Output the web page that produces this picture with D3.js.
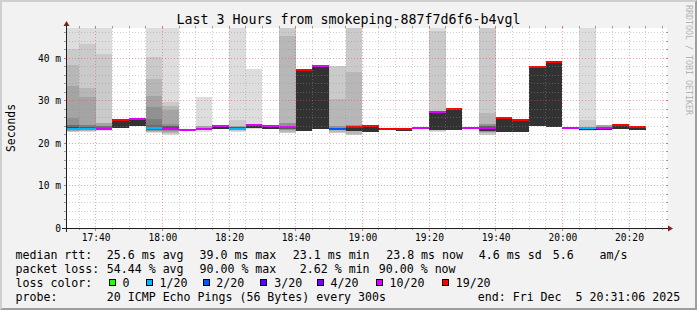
<!DOCTYPE html>
<html><head><meta charset="utf-8">
<script src="https://cdn.jsdelivr.net/npm/d3@7"></script>
<style>
body{margin:0;background:#f2f2f2;}
svg{display:block;}
text{font-family:"DejaVu Sans Mono",monospace;white-space:pre;}
</style>
</head><body>
<svg id="c" width="697" height="310"></svg>
<script>
// ---------------- data ----------------
const day = "2025-12-05";
const rangeStart = "17:31:06";
const rangeEnd = "20:31:06";
const title = "Last 3 Hours from smokeping-887f7d6f6-b4vgl";
const yLabel = "Seconds";
const yMax = 47.06;

// start time of each 5-minute interval
const times = ["17:30","17:35","17:40","17:45","17:50","17:55","18:00","18:05","18:10","18:15",
  "18:20","18:25","18:30","18:35","18:40","18:45","18:50","18:55","19:00","19:05",
  "19:10","19:15","19:20","19:25","19:30","19:35","19:40","19:45","19:50","19:55",
  "20:00","20:05","20:10","20:15","20:20"];

// median rtt (ms)
const median = [23.2,23.4,23.4,25.3,25.7,23.5,23.4,23.1,23.4,23.9,
  23.3,24.3,23.9,23.7,37.2,38.2,23.3,23.7,24.0,23.3,
  23.2,23.6,27.4,28.0,23.6,23.6,25.8,25.5,37.9,39.0,
  23.6,23.5,23.6,24.3,23.8];

// loss category (index into lossLabels)
const loss = [1,1,5,6,5,1,5,5,5,5,1,5,5,5,6,5,2,6,6,6,6,5,5,6,5,5,6,6,6,6,5,1,5,6,6];

// smoke bands per interval: [layer (1 = outermost pair of pings .. 10 = innermost), low ms, high ms]
const smoke = [
  [[1,22.5,60],[2,22.7,42.1],[3,22.8,38.4],[4,22.9,33.4],[5,23.0,26.0],[7,23.1,24.2],[9,23.1,23.7]],
  [[1,22.6,60],[2,22.8,43.2],[3,22.9,32.9],[4,23.0,30.9],[6,23.1,24.2],[8,23.2,23.8]],
  [[1,22.9,60],[2,23.0,40.9],[4,23.1,24.6],[7,23.2,24.0]],
  [[10,23.6,25.3]],
  [[10,24.1,25.7]],
  [[1,22.3,60],[2,22.5,40.2],[3,22.7,35.1],[4,22.8,31.1],[5,22.9,28.5],[6,23.0,25.7],[7,23.1,24.2],[9,23.2,23.8]],
  [[1,21.9,60],[2,22.2,29.7],[3,22.4,28.7],[4,22.6,27.7],[5,22.9,24.5],[8,23.1,23.9]],
  [[10,22.9,23.1]],
  [[1,22.6,30.8],[4,23.0,23.9],[10,23.1,23.4]],
  [[10,23.3,23.9]],
  [[1,22.7,60],[2,22.9,25.4],[4,23.0,24.1],[8,23.1,23.7]],
  [[1,23.2,37.3],[10,23.5,24.3]],
  [[10,23.2,23.9]],
  [[2,22.4,60],[3,22.7,45.2],[5,23.0,24.6],[8,23.2,24.0]],
  [[10,22.9,37.2]],
  [[10,23.3,38.2]],
  [[2,22.4,38.1],[3,22.7,30.4],[5,23.0,24.0],[8,23.1,23.6]],
  [[2,21.9,60],[3,22.2,36.6],[5,22.8,24.2],[10,22.9,23.7]],
  [[10,22.7,24.0]],
  [[10,23.1,23.3]],
  [[10,22.9,23.2]],
  [],
  [[1,22.7,60],[2,22.8,46.4],[10,23.1,27.4]],
  [[10,23.1,28.0]],
  [],
  [[2,21.8,60],[3,22.3,27.0],[5,22.7,24.5],[8,22.9,24.0],[10,22.9,23.6]],
  [[10,22.7,25.8]],
  [[10,22.7,25.5]],
  [[10,24.1,37.9]],
  [[10,23.8,39.0]],
  [],
  [[1,22.9,60],[2,23.0,25.5],[10,23.1,23.5]],
  [[4,23.0,24.3],[10,23.1,23.6]],
  [[10,23.4,24.3]],
  [[10,23.1,23.8]]
];

const lossLabels = ["0","1/20","2/20","3/20","4/20","10/20","19/20"];
const lossColors = ["#26ff00","#00b8ff","#0059ff","#5e00ff","#7e00ff","#dd00ff","#ff0000"];

const xTickLabels = ["17:40","18:00","18:20","18:40","19:00","19:20","19:40","20:00","20:20"];
const yTickValues = [0,10,20,30,40];
const yTickLabels = ["0","10 m","20 m","30 m","40 m"];

const rttStats = ["median rtt:","25.6 ms avg","39.0 ms max","23.1 ms min","23.8 ms now","4.6 ms sd","5.6","am/s"];
const lossStats = ["packet loss:","54.44 % avg","90.00 % max","2.62 % min","90.00 % now"];
const probeText = ["probe:","20 ICMP Echo Pings (56 Bytes) every 300s","end: Fri Dec  5 20:31:06 2025"];
const watermark = "RRDTOOL / TOBI OETIKER";

// ---------------- drawing ----------------
const W = 697, H = 310;
const X0 = 66, X1 = 666, Y0 = 228, Y1 = 28;
const svg = d3.select("#c");
const parse = d3.timeParse("%Y-%m-%d %H:%M:%S");
const T = s => parse(day + " " + (s.length === 5 ? s + ":00" : s));

const x = d3.scaleTime().domain([T(rangeStart), T(rangeEnd)]).range([X0, X1]);
const y = d3.scaleLinear().domain([0, yMax]).range([Y0, Y1]);
const layerColor = l => { const c = Math.floor(190 / 10 * (10 - l)) + 50; return d3.rgb(c, c, c).formatHex(); };

// background + 3d border
svg.append("rect").attr("width", W).attr("height", H).attr("fill", "#f2f2f2");
svg.append("polygon").attr("points", `0,${H} 2,${H-2} 2,2 ${W-2},2 ${W},0 0,0`).attr("fill", "#cfcfcf");
svg.append("polygon").attr("points", `2,${H-2} ${W-2},${H-2} ${W-2},2 ${W},0 ${W},${H} 0,${H}`).attr("fill", "#9e9e9e");

// canvas
svg.append("rect").attr("x", X0).attr("y", Y1).attr("width", X1 - X0 + 1).attr("height", Y0 - Y1).attr("fill", "#ffffff");

svg.append("clipPath").attr("id", "plot").append("rect")
  .attr("x", X0).attr("y", Y1).attr("width", X1 - X0 + 1).attr("height", Y0 - Y1);

const g = svg.append("g").attr("clip-path", "url(#plot)").attr("shape-rendering", "crispEdges");

// smoke
times.forEach((tm, k) => {
  const ts = T(tm), te = d3.timeMinute.offset(ts, 5);
  const xa = x(ts), xb = x(te);
  smoke[k].forEach(([layer, lo, hi]) => {
    g.append("rect")
      .attr("x", xa).attr("width", xb - xa)
      .attr("y", y(hi)).attr("height", y(lo) - y(hi))
      .attr("fill", layerColor(layer));
  });
});
// median lines
times.forEach((tm, k) => {
  const ts = T(tm), te = d3.timeMinute.offset(ts, 5);
  const xa = x(ts), xb = x(te);
  g.append("rect")
    .attr("x", xa).attr("width", xb - xa)
    .attr("y", y(median[k]) - 1).attr("height", 2)
    .attr("fill", lossColors[loss[k]]);
});

// grid (on top of data, translucent)
const grid = svg.append("g");
const minorCol = "#8f8f8f", minorOp = 0.42, majorCol = "#de4f4f", majorOp = 0.5;
const yMinor = d3.range(2, yMax, 2).filter(v => v % 10 !== 0);
yMinor.forEach(v => {
  const yy = Math.floor(y(v)) + 0.5;
  grid.append("line").attr("x1", X0).attr("x2", X1).attr("y1", yy).attr("y2", yy)
    .attr("stroke", minorCol).attr("stroke-opacity", minorOp).attr("stroke-dasharray", "1,2");
  grid.append("line").attr("x1", X0 - 2).attr("x2", X0).attr("y1", yy).attr("y2", yy).attr("stroke", "#9a9a9a");
  grid.append("line").attr("x1", X1).attr("x2", X1 + 2).attr("y1", yy).attr("y2", yy).attr("stroke", "#9a9a9a");
});
yTickValues.filter(v => v > 0).forEach(v => {
  const yy = Math.floor(y(v)) + 0.5;
  grid.append("line").attr("x1", X0).attr("x2", X1).attr("y1", yy).attr("y2", yy)
    .attr("stroke", majorCol).attr("stroke-opacity", majorOp).attr("stroke-dasharray", "1,2");
  grid.append("line").attr("x1", X0 - 2).attr("x2", X0).attr("y1", yy).attr("y2", yy).attr("stroke", "#e07070");
  grid.append("line").attr("x1", X1).attr("x2", X1 + 2).attr("y1", yy).attr("y2", yy).attr("stroke", "#e07070");
});
const vTimes = d3.timeMinute.every(5).range(T(rangeStart), T(rangeEnd));
const majorSet = new Set(xTickLabels);
const fmt = d3.timeFormat("%H:%M");
vTimes.forEach(t => {
  const xx = Math.floor(x(t)) + 0.5;
  const major = majorSet.has(fmt(t));
  grid.append("line").attr("x1", xx).attr("x2", xx).attr("y1", Y1).attr("y2", Y0)
    .attr("stroke", major ? majorCol : minorCol).attr("stroke-opacity", major ? majorOp : minorOp)
    .attr("stroke-dasharray", "1,2");
  const tc = major ? "#e07070" : "#9a9a9a";
  grid.append("line").attr("x1", xx).attr("x2", xx).attr("y1", Y0).attr("y2", Y0 + (major ? 3 : 2)).attr("stroke", tc);
  grid.append("line").attr("x1", xx).attr("x2", xx).attr("y1", Y1 - 2).attr("y2", Y1).attr("stroke", tc);
});

// axes
svg.append("line").attr("x1", X0 - 4).attr("x2", X1 + 4).attr("y1", Y0 + 0.5).attr("y2", Y0 + 0.5).attr("stroke", "#1f1f1f");
svg.append("line").attr("x1", X0 + 0.5).attr("x2", X0 + 0.5).attr("y1", Y0 + 4).attr("y2", Y1 - 4).attr("stroke", "#1f1f1f");
svg.append("polygon").attr("points", `${X1+2},${Y0-2.5} ${X1+2},${Y0+3.5} ${X1+7},${Y0+0.5}`).attr("fill", "#801f1f");
svg.append("polygon").attr("points", `${X0-2.5},${Y1-2} ${X0+3.5},${Y1-2} ${X0+0.5},${Y1-7}`).attr("fill", "#801f1f");

// axis labels
yTickValues.forEach((v, i) => {
  svg.append("text").attr("x", 61).attr("y", y(v) + 3.6).attr("text-anchor", "end")
    .attr("font-size", "9.6px").attr("fill", "#000").text(yTickLabels[i]);
});
xTickLabels.forEach(s => {
  svg.append("text").attr("x", x(T(s)) + 0.5).attr("y", 241.3).attr("text-anchor", "middle")
    .attr("font-size", "9.6px").attr("fill", "#000").text(s);
});

// title
svg.append("text").attr("x", 348.5).attr("y", 23.7).attr("text-anchor", "middle")
  .attr("font-size", "13.3px").attr("fill", "#000").text(title);

// y label
svg.append("text").attr("transform", `translate(15.3,${(Y0 + Y1) / 2}) rotate(-90)`)
  .attr("text-anchor", "middle").attr("font-size", "11.4px").attr("fill", "#000").text(yLabel);

// watermark
svg.append("text").attr("transform", "translate(685.5,5) rotate(90)")
  .attr("font-size", "8.3px").attr("fill", "#b3b3b3").text(watermark);

// legend
const LF = "11.6px";
const lineY = [258.8, 272.7, 286.6, 300.5];
const rttX = [15.5, 106.8, 199.5, 292.8, 386.2, 478.8, 552.8, 599.5];
rttStats.forEach((s, i) => svg.append("text").attr("x", rttX[i]).attr("y", lineY[0]).attr("font-size", LF).text(s));
const lossX = [15.5, 106.8, 199.5, 299.8, 378.8];
lossStats.forEach((s, i) => svg.append("text").attr("x", lossX[i]).attr("y", lineY[1]).attr("font-size", LF).text(s));
svg.append("text").attr("x", 15.5).attr("y", lineY[2]).attr("font-size", LF).text("loss color:");
const boxX = [109, 146, 203, 260, 317, 376, 442];
const labX = [122.5, 159.5, 216.3, 274.3, 330.5, 389.5, 455.7];
lossLabels.forEach((s, i) => {
  svg.append("rect").attr("x", boxX[i] + 0.5).attr("y", 279.5).attr("width", 6).attr("height", 6)
    .attr("fill", lossColors[i]).attr("stroke", "#000").attr("stroke-width", 1);
  svg.append("text").attr("x", labX[i]).attr("y", lineY[2]).attr("font-size", LF).text(s);
});
const probeX = [15.5, 106.8, 477.8];
probeText.forEach((s, i) => svg.append("text").attr("x", probeX[i]).attr("y", lineY[3]).attr("font-size", LF).text(s));
</script>
</body></html>
